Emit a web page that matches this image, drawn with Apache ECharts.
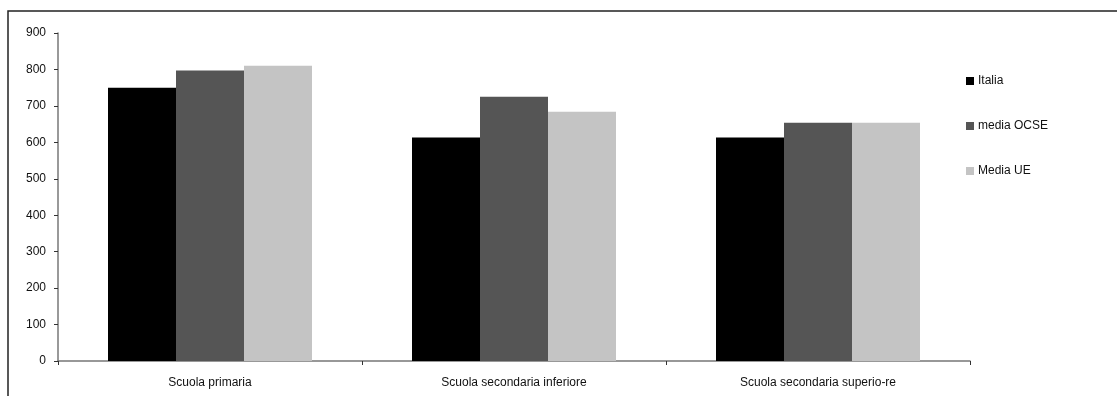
<!DOCTYPE html>
<html>
<head>
<meta charset="utf-8">
<script src="https://cdn.jsdelivr.net/npm/echarts@6/dist/echarts.min.js"></script>
<style>
  html, body { margin: 0; padding: 0; background: #fff; }
  #chart { width: 1117px; height: 396px; }
</style>
</head>
<body>
<div id="chart"></div>
<script>
// School levels on the category axis
const categories = ['Scuola primaria', 'Scuola secondaria inferiore', 'Scuola secondaria superio-re'];
// Values per group
const italia = [750, 613, 613];
const mediaOCSE = [797, 725, 654];
const mediaUE = [810, 684, 654];
// Y axis scale
const yTicks = [0, 100, 200, 300, 400, 500, 600, 700, 800, 900];

const font = '"Liberation Sans", Arial, sans-serif';
const chart = echarts.init(document.getElementById('chart'));

chart.setOption({
  animation: false,
  backgroundColor: '#fff',
  graphic: [{
    type: 'rect',
    shape: { x: 8, y: 11, width: 1200, height: 500 },
    style: { fill: 'none', stroke: '#222', lineWidth: 1.5 },
    silent: true
  }],
  grid: { left: 58, right: 147, top: 33, bottom: 35, containLabel: false },
  legend: {
    orient: 'vertical',
    left: 961,
    top: 70,
    itemWidth: 8,
    itemHeight: 8,
    itemGap: 33,
    itemStyle: { borderWidth: 0 },
    icon: 'rect',
    textStyle: { fontFamily: font, fontSize: 12, color: '#111', padding: [0, 0, 0, -1] },
    data: ['Italia', 'media OCSE', 'Media UE']
  },
  xAxis: {
    type: 'category',
    data: categories,
    axisLine: { lineStyle: { color: '#777', width: 1.5 } },
    axisTick: { show: true, length: 4, lineStyle: { color: '#333' } },
    axisLabel: { margin: 16, fontFamily: font, fontSize: 12, color: '#111' },
    splitLine: { show: false }
  },
  yAxis: {
    type: 'value',
    min: yTicks[0],
    max: yTicks[yTicks.length - 1],
    interval: 100,
    axisLine: { show: true, lineStyle: { color: '#777', width: 1.5 } },
    axisTick: { show: true, length: 4, lineStyle: { color: '#333' } },
    axisLabel: { margin: 12, fontFamily: font, fontSize: 12, color: '#111' },
    splitLine: { show: false }
  },
  series: [
    { name: 'Italia', type: 'bar', data: italia, barWidth: 68, barGap: '0%', itemStyle: { color: '#000000' } },
    { name: 'media OCSE', type: 'bar', data: mediaOCSE, barWidth: 68, barGap: '0%', itemStyle: { color: '#555555' } },
    { name: 'Media UE', type: 'bar', data: mediaUE, barWidth: 68, barGap: '0%', itemStyle: { color: '#c4c4c4' } }
  ]
});
</script>
</body>
</html>
